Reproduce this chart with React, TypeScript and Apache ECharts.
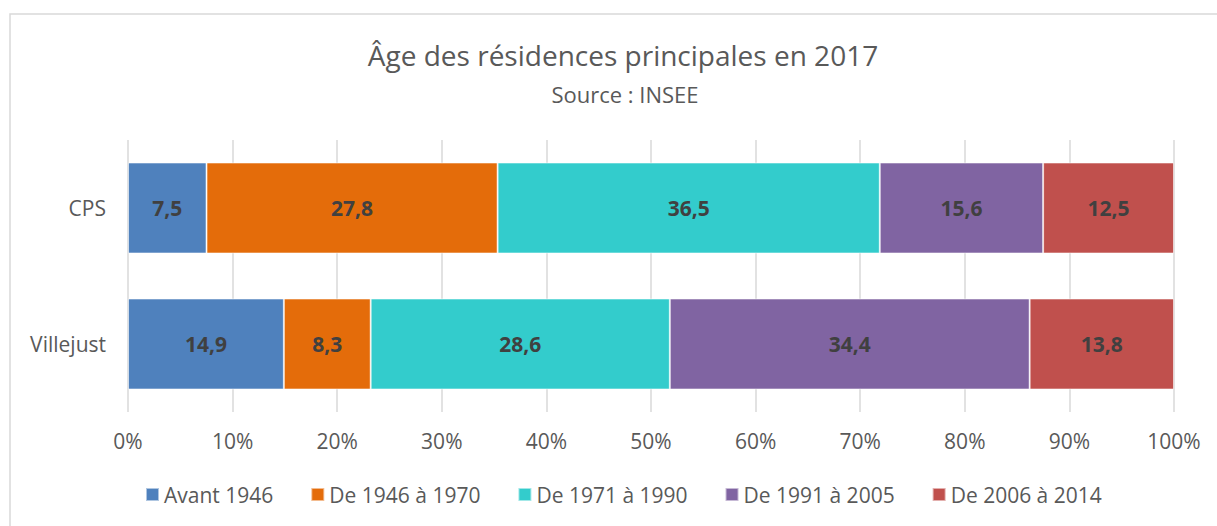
import React, { useEffect, useRef } from "react";
import * as echarts from "echarts";

const categories = ["CPS", "Villejust"];
const seriesNames = ["Avant 1946", "De 1946 à 1970", "De 1971 à 1990", "De 1991 à 2005", "De 2006 à 2014"];
const avant1946 = [7.5, 14.9];
const de1946a1970 = [27.8, 8.3];
const de1971a1990 = [36.5, 28.6];
const de1991a2005 = [15.6, 34.4];
const de2006a2014 = [12.5, 13.8];
const colors = ["#4F81BD", "#E46C0A", "#33CCCC", "#8064A2", "#C0504D"];
const xTicks = [0, 10, 20, 30, 40, 50, 60, 70, 80, 90, 100];

const FONT = "'Open Sans', 'Noto Sans', sans-serif";

export default function App() {
  const ref = useRef<HTMLDivElement>(null);
  useEffect(() => {
    if (!ref.current) return;
    const chart = echarts.init(ref.current, null, { renderer: "svg" });
    const raw = [avant1946, de1946a1970, de1971a1990, de1991a2005, de2006a2014];
    const totals = categories.map((_, i) => raw.reduce((s, arr) => s + arr[i], 0));
    chart.setOption({
      animation: false,
      backgroundColor: "#ffffff",
      textStyle: { fontFamily: FONT },
      title: [
        {
          text: "Âge des résidences principales en 2017",
          left: 618,
          top: 36,
          textAlign: "center",
          textStyle: { fontFamily: FONT, fontSize: 28, fontWeight: "normal", color: "#595959" },
        },
        {
          text: "Source : INSEE",
          left: 620,
          top: 78,
          textAlign: "center",
          textStyle: { fontFamily: FONT, fontSize: 22, fontWeight: "normal", color: "#595959" },
        },
      ],
      graphic: [
        {
          type: "rect",
          shape: { x: 10, y: 14, width: 1400, height: 700 },
          style: { fill: "none", stroke: "#d9d9d9", lineWidth: 1.5 },
          silent: true,
        },
      ],
      legend: {
        bottom: 16,
        left: 140,
        itemWidth: 13,
        itemHeight: 13,
        itemGap: 37,
        icon: "rect",
        textStyle: { fontFamily: FONT, fontSize: 21, color: "#595959" },
        data: seriesNames,
      },
      grid: { left: 128, right: 43, top: 140, bottom: 114, containLabel: false },
      xAxis: {
        type: "value",
        min: 0,
        max: 100,
        interval: 10,
        axisLine: { show: false },
        axisTick: { show: false },
        splitLine: { show: true, lineStyle: { color: "#d9d9d9", width: 1.5 } },
        axisLabel: {
          fontFamily: FONT,
          fontSize: 21,
          color: "#595959",
          margin: 18,
          formatter: (v: number) => (xTicks.includes(v) ? v + "%" : ""),
        },
      },
      yAxis: {
        type: "category",
        inverse: true,
        data: categories,
        axisLine: { show: false },
        axisTick: { show: false },
        axisLabel: { fontFamily: FONT, fontSize: 21, color: "#595959", margin: 22 },
      },
      series: raw.map((arr, si) => ({
        name: seriesNames[si],
        type: "bar",
        stack: "total",
        barWidth: 91,
        itemStyle: { color: colors[si], borderColor: "rgba(255,255,255,0.55)", borderWidth: 1 },
        label: {
          show: true,
          position: "inside",
          fontFamily: FONT,
          fontSize: 21,
          fontWeight: "bold",
          color: "#404040",
          formatter: (p: any) => arr[p.dataIndex].toFixed(1).replace(".", ","),
        },
        data: arr.map((v, i) => (v / totals[i]) * 100),
      })),
    });
    return () => chart.dispose();
  }, []);
  return (
    <div
      ref={ref}
      style={{ position: "absolute", left: 0, top: 0, width: 1217, height: 526 }}
    />
  );
}
